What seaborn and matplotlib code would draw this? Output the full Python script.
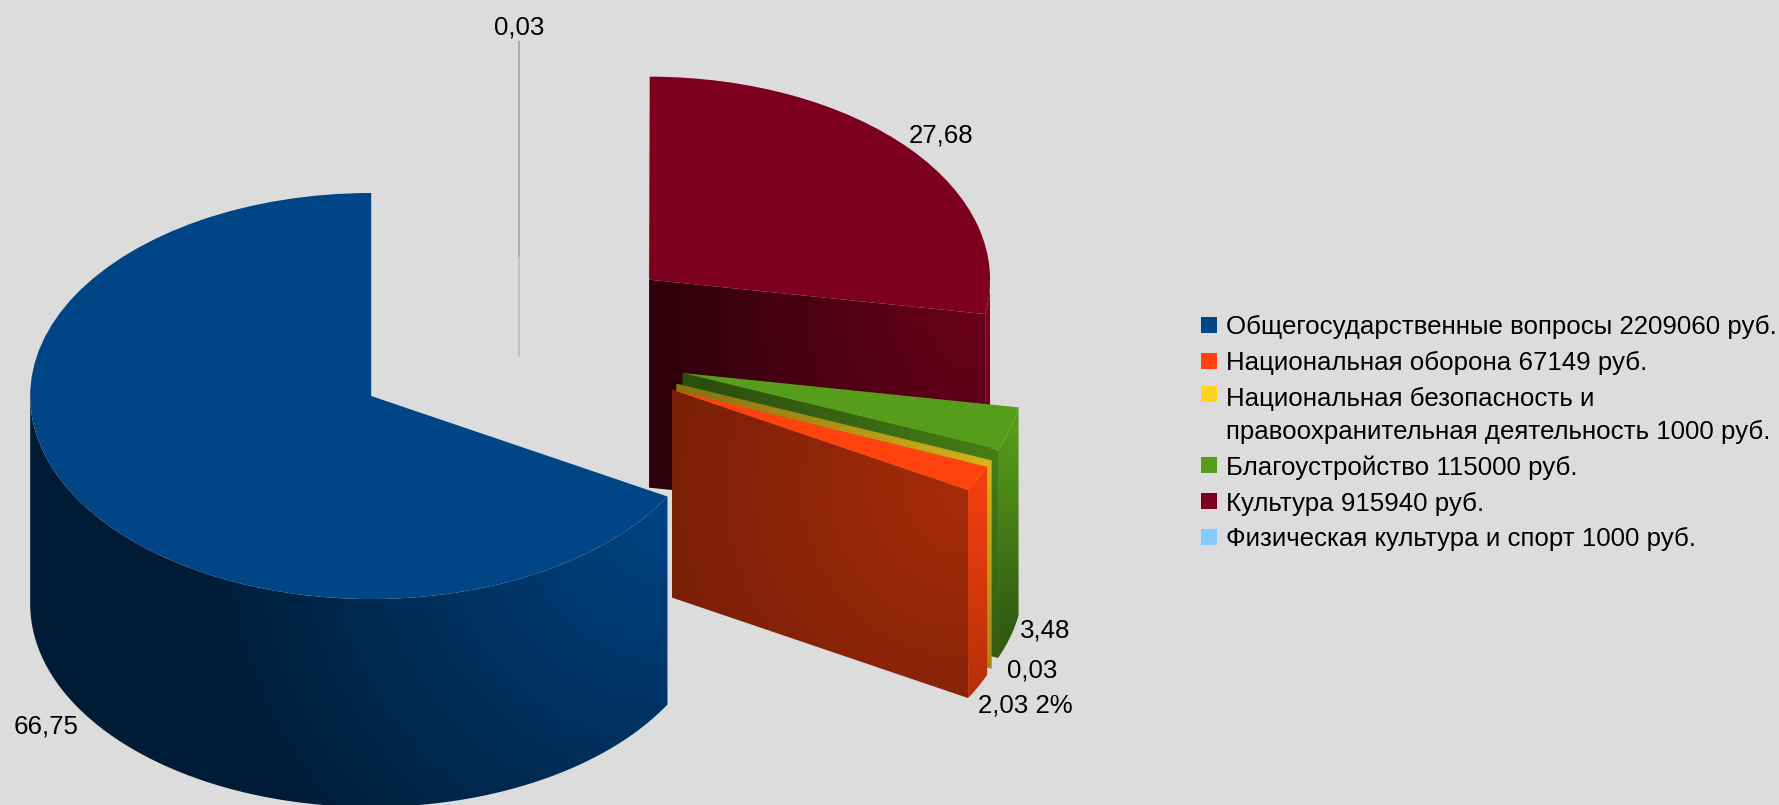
import numpy as np
import seaborn as sns
import matplotlib.pyplot as plt
from matplotlib.colors import to_rgb
from matplotlib.patches import Polygon, Rectangle

# Data
categories = ["Общегосударственные вопросы", "Национальная оборона",
              "Национальная безопасность и\nправоохранительная деятельность",
              "Благоустройство", "Культура", "Физическая культура и спорт"]
rubles = [2209060, 67149, 1000, 115000, 915940, 1000]
percent_labels = ["66,75", "2,03 2%", "0,03", "3,48", "27,68", "0,03"]
colors = ["#004586", "#ff420e", "#ffd320", "#579d1c", "#7e0021", "#83caff"]

# Layout in pixels
W, H = 1779, 805
CX, CY, RX, RY = 518.6, 345, 341, 203
DEPTH = 208 / RY
EXPLODE = 0.5
label_pos = [(46, 726), (1025, 705), (1032, 670), (1045, 630), (941, 135), (519, 28)]
legend_y = [325, 361, 394, 465, 501, 537]
legend_text_y = [326, 362, 398, 466, 503, 538]

# shading: (cut face hi, lo, reach), (rim hi, lo, reach)
cut_shade = [None, (0.66, 0.42, 400), (0.85, 0.55, 300), (0.8, 0.5, 300), (0.85, 0.36, 340), None]
rim_shade = [(0.98, 0.40, 480), (0.95, 0.72, 200), (0.9, 0.7, 200), (1.0, 0.58, 200), (1.0, 0.8, 200), None]

sns.set_theme(style="white")
plt.rcParams['font.family'] = ['Liberation Sans', 'DejaVu Sans']

fig = plt.figure(figsize=(W / 100, H / 100), dpi=100, facecolor="#dcdcdc")
ax = fig.add_axes([0, 0, 1, 1])
wedges, _ = ax.pie(rubles, explode=[EXPLODE] * len(rubles), colors=colors, startangle=90,
                   wedgeprops={"linewidth": 0})
ax.set_aspect("auto")
xlim = (-CX / RX, (W - CX) / RX)
ylim = ((CY - H) / RY, CY / RY)


def shade_face(pts, base, shade, anchor, z):
    # fills a polygon with a radial falloff around one of its points
    hi, lo, reach = shade
    pts = np.array(pts)
    x0, y0 = pts.min(axis=0)
    x1, y1 = pts.max(axis=0)
    gx, gy = np.meshgrid(np.linspace(x0, x1, 300), np.linspace(y0, y1, 300))
    dist = np.hypot((gx - anchor[0]) * RX, (gy - anchor[1]) * RY)
    f = lo + (hi - lo) * (1 - np.clip(dist / reach, 0, 1))
    img = f[..., None] * np.array(to_rgb(base))
    im = ax.imshow(img, extent=(x0, x1, y0, y1), origin="lower", aspect="auto",
                   interpolation="bilinear", zorder=z)
    im.set_clip_path(Polygon(pts, transform=ax.transData))


for i, w in enumerate(wedges):
    z = {0: 50, 1: 40, 2: 30, 3: 20, 4: 10, 5: 5}[i]
    w.set_zorder(z + 2)
    cx, cy = w.center
    t1, t2 = w.theta1, w.theta2
    # cut face on the viewer's side
    if cut_shade[i] is not None:
        a = np.radians(t1)
        ex, ey = cx + np.cos(a), cy + np.sin(a)
        shade_face([(cx, cy), (ex, ey), (ex, ey - DEPTH), (cx, cy - DEPTH)],
                   colors[i], cut_shade[i], (ex, ey), z)
    # outer wall, only the front half of the circle shows
    if rim_shade[i] is not None:
        lo_a = max(t1, 180)
        hi_a = min(t2, 360)
        if hi_a > lo_a:
            th = np.radians(np.linspace(lo_a, hi_a, 120))
            top = np.column_stack([cx + np.cos(th), cy + np.sin(th)])
            bottom = top[::-1] - [0, DEPTH]
            e = top[-1]
            shade_face(np.vstack([top, bottom]), colors[i], rim_shade[i],
                       (e[0], e[1] - DEPTH * 0.1), z + 1)

# the 0,03 sliver is only a line when seen from here
sx, sy = wedges[5].center
ax.plot([sx, sx], [sy + 1, sy - 13 / RY], color="#a9a9ae", lw=1.5, zorder=8, solid_capstyle="butt")
ax.plot([sx, sx], [sy - 13 / RY, sy - 113 / RY], color="#c2c2c5", lw=1.5, zorder=8, solid_capstyle="butt")
ax.set_xlim(xlim)
ax.set_ylim(ylim)
ax.axis("off")

# labels and legend on a pixel overlay
ov = fig.add_axes([0, 0, 1, 1])
ov.set_xlim(0, W)
ov.set_ylim(H, 0)
ov.axis("off")
for txt, (px, py) in zip(percent_labels, label_pos):
    ov.text(px, py, txt, ha="center", va="center", fontsize=18.6, color="black")
for i, (name, val) in enumerate(zip(categories, rubles)):
    ov.add_patch(Rectangle((1201, legend_y[i] - 8), 16, 16, facecolor=colors[i], edgecolor="none"))
    ov.text(1226, legend_text_y[i] - 11, f"{name} {val} руб.", ha="left", va="top", fontsize=18.6,
            color="black", linespacing=1.49)

fig.savefig("out.png", dpi=100, facecolor=fig.get_facecolor())
